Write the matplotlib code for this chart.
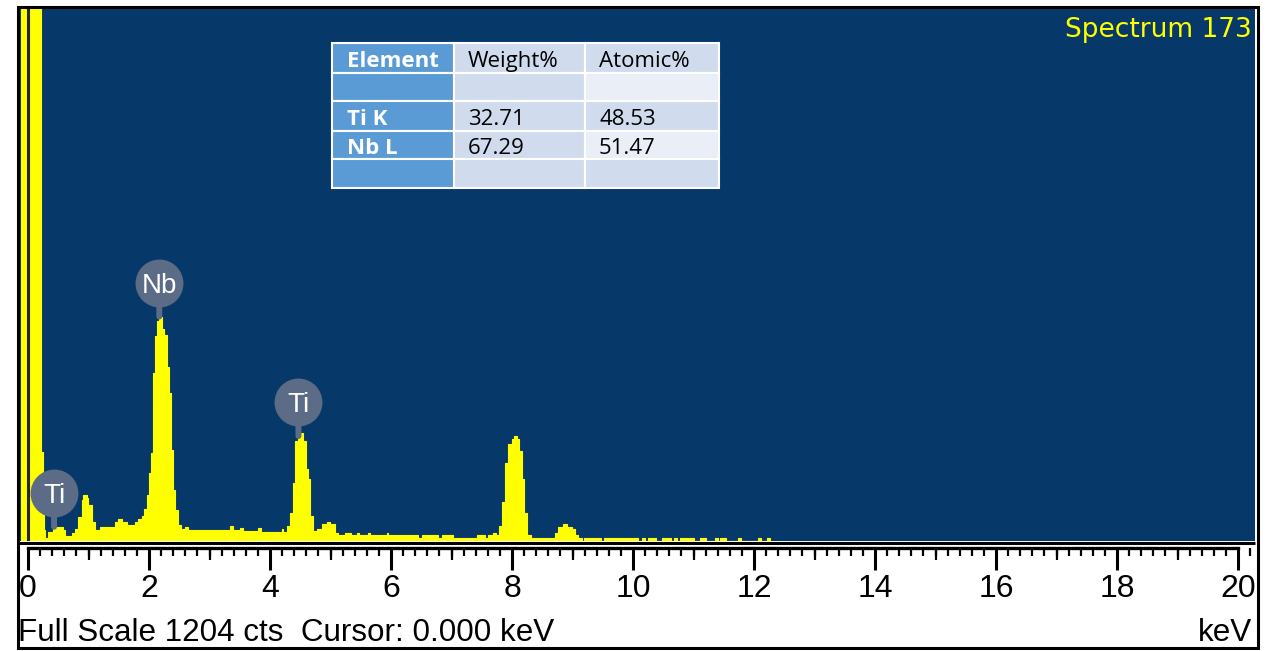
import numpy as np
import matplotlib.pyplot as plt
from matplotlib.patches import Rectangle
from matplotlib.ticker import MultipleLocator
from matplotlib.transforms import offset_copy

W, H = 1271, 651

# EDS spectrum: step edges (keV) and counts per step
edges_kev = [-0.12, 0.215, 0.24, 0.265, 0.281, 0.336, 0.418, 0.583, 0.612, 0.722,
             0.777, 0.831, 0.888, 0.914, 0.970, 0.997, 1.053, 1.107, 1.190, 1.438,
             1.493, 1.549, 1.631, 1.769, 1.823, 1.879, 1.917, 1.962, 2.005, 2.028,
             2.061, 2.099, 2.127, 2.170, 2.220, 2.253, 2.293, 2.336, 2.359, 2.392,
             2.430, 2.484, 2.524, 2.595, 2.650, 2.843, 3.339, 3.388, 3.50, 3.55,
             3.80, 3.85, 4.193, 4.220, 4.276, 4.331, 4.375, 4.413, 4.468, 4.507,
             4.550, 4.595, 4.633, 4.661, 4.706, 4.772, 4.855, 4.937, 4.992, 5.074,
             5.129, 5.240, 5.334, 5.443, 5.471, 5.625, 5.653, 5.929, 5.955, 6.451,
             6.507, 6.782, 6.838, 7.030, 7.416, 7.554, 7.608, 7.691, 7.736, 7.790,
             7.830, 7.884, 7.939, 7.995, 8.033, 8.078, 8.121, 8.160, 8.198, 8.253,
             8.309, 8.711, 8.765, 8.848, 8.904, 8.987, 9.041, 9.096, 9.152, 9.190,
             9.466, 9.521, 10.088, 10.154, 10.198, 10.253, 10.380, 10.484, 10.623, 10.678,
             10.722, 10.777, 11.008, 11.107, 11.202, 11.355, 11.400, 11.438, 11.532, 11.731,
             11.780, 12.061, 12.111, 12.210, 12.264]
counts = [5000, 200, 70, 25, 7, 20, 32, 25, 11,
          18, 27, 54, 93, 104, 97, 81, 43, 25, 32,
          43, 50, 43, 36, 43, 50, 57, 72, 104, 154,
          199, 380, 462, 496, 507, 478, 466, 394, 335, 206,
          115, 70, 36, 27, 32, 25, 24, 34, 24, 29,
          23, 29, 21, 26, 20, 34, 64, 132, 226, 237,
          244, 226, 162, 140, 57, 23, 26, 38, 44, 38,
          19, 13, 19, 14, 19, 14, 19, 14, 19, 13,
          6, 13, 6, 13, 6, 13, 6, 13, 19, 13,
          34, 87, 177, 219, 230, 237, 230, 203, 140, 64,
          13, 6, 19, 32, 38, 32, 26, 13, 6, 0,
          6, 0, 6, 0, 6, 0, 6, 0, 6, 0,
          6, 0, 6, 0, 6, 0, 6, 0, 6, 0,
          6, 0, 6, 0, 6]

full_scale = 1204
cursor_kev = 0.0
spectrum_name = 'Spectrum 173'

# element line markers
marker_elem = ['Ti', 'Nb', 'Ti']
marker_kev = [0.43, 2.17, 4.47]

# axis ticks
tick_kev = list(range(0, 21, 2))
tick_labels = [str(t) for t in tick_kev]
mid_kev = list(range(1, 20, 2))

# quantification table
tbl_header = ['Element', 'Weight%', 'Atomic%']
tbl_elem = ['', 'Ti K', 'Nb L', '']
tbl_weight = ['', '32.71', '67.29', '']
tbl_atomic = ['', '48.53', '51.47', '']

BLUE = '#06386A'
YELLOW = '#FFFF00'
BUBBLE = '#5C6B86'
narrow = ['Liberation Sans Narrow', 'Liberation Sans', 'DejaVu Sans']
sans = ['Liberation Sans', 'DejaVu Sans']


def px_rect(x0, y0, x1, y1):
    return [x0 / W, 1 - y1 / H, (x1 - x0) / W, (y1 - y0) / H]


fig = plt.figure(figsize=(W / 100, H / 100), dpi=100)

# spectrum panel
ax = fig.add_axes(px_rect(19, 8, 1255, 541))
ax.set_facecolor(BLUE)
ax.fill_between(edges_kev, counts + [counts[-1]], step='post', facecolor=YELLOW,
                edgecolor=YELLOW, lw=0.8)
ax.set_xlim(-0.149, 20.281)
ax.set_ylim(0, full_scale)
for s in ax.spines.values():
    s.set_visible(False)
ax.set_xticks([])
ax.set_yticks([])
ax.axvline(cursor_kev, color='#262626', lw=2.2, zorder=3)

# element bubbles sitting above the peak tops
edges_arr = np.array(edges_kev)
lift = offset_copy(ax.transData, fig=fig, x=0, y=34, units='dots')
lift_txt = offset_copy(ax.transData, fig=fig, x=0, y=24, units='dots')
for name, e in zip(marker_elem, marker_kev):
    i = np.searchsorted(edges_arr, e, side='right') - 1
    top = counts[i]
    ax.annotate('', xy=(e, top), xytext=(0, 34), textcoords='offset pixels',
                arrowprops=dict(arrowstyle='-', color=BUBBLE, lw=4.3,
                                shrinkA=0, shrinkB=0), zorder=4)
    ax.plot([e], [top], 'o', ms=34.5, color=BUBBLE, mec='none',
            transform=lift, zorder=5, clip_on=False)
    ax.text(e, top, name, transform=lift_txt, ha='center', va='baseline',
            color='white', fontsize=20, family=sans, zorder=6)

ax.text(0.9976, 0.9456, spectrum_name, transform=ax.transAxes, ha='right',
        va='baseline', color=YELLOW, fontsize=19, family=['DejaVu Sans'])

# energy ruler
rx = fig.add_axes(px_rect(19, 548.3, 1255, 572))
rx.set_xlim(ax.get_xlim())
rx.set_ylim(0, 1)
rx.patch.set_alpha(0)
for k in ['left', 'right', 'bottom']:
    rx.spines[k].set_visible(False)
rx.spines['top'].set_linewidth(2.4)
rx.spines['top'].set_bounds(0, 20)
rx.set_yticks([])
rx.set_xticks(tick_kev)
rx.set_xticklabels(tick_labels)
rx.xaxis.set_minor_locator(MultipleLocator(0.2))
rx.tick_params(axis='x', which='both', direction='in', top=True, bottom=False,
               labeltop=False, labelbottom=True, color='black')
rx.tick_params(axis='x', which='major', length=15.5, width=2.2, pad=1.5, labelsize=23)
rx.tick_params(axis='x', which='minor', length=5.6, width=1.6)
rx.vlines(mid_kev, 0.52, 1, transform=rx.get_xaxis_transform(), color='black', lw=1.6)
for lbl in rx.get_xticklabels():
    lbl.set_family(narrow)

fig.text(18 / W, 1 - 641 / H, 'Full Scale %d cts  Cursor: %.3f keV' % (full_scale, cursor_kev),
         ha='left', va='baseline', fontsize=22.6, family=sans)
fig.text(1252 / W, 1 - 641 / H, 'keV', ha='right', va='baseline', fontsize=22.6, family=sans)

# overlay in pixel coordinates: frame and table
ov = fig.add_axes([0, 0, 1, 1])
ov.set_xlim(0, W)
ov.set_ylim(H, 0)
ov.axis('off')
ov.add_patch(Rectangle((17.5, 6.5), 1240, 641, fill=False, ec='black', lw=2.2))
ov.plot([19, 1255], [543, 543], color='black', lw=2.2, solid_capstyle='butt')

col_x = [332, 454, 585, 719]
row_y = [43, 73, 101, 131, 159, 188]
col_fill = [['#5B9BD5'] * 5,
            ['#D0DCEE'] * 5,
            ['#D0DCEE', '#E9EEF7', '#D0DCEE', '#E9EEF7', '#D0DCEE']]
rows = [tbl_header] + [[a, b, c] for a, b, c in zip(tbl_elem, tbl_weight, tbl_atomic)]
for r in range(5):
    for c in range(3):
        x0, x1 = col_x[c], col_x[c + 1]
        y0, y1 = row_y[r], row_y[r + 1]
        ov.add_patch(Rectangle((x0, y0), x1 - x0, y1 - y0, fc=col_fill[c][r],
                               ec='white', lw=1.5))
        txt = rows[r][c]
        if txt:
            first = c == 0
            ov.text(x0 + (15 if first else 14), (y0 + y1) / 2 + 1, txt,
                    ha='left', va='center_baseline',
                    color='white' if first else 'black',
                    fontweight='bold' if first else 'normal',
                    fontsize=16, family=['Open Sans', 'DejaVu Sans'])

fig.savefig('out.png', dpi=100, facecolor='white')
